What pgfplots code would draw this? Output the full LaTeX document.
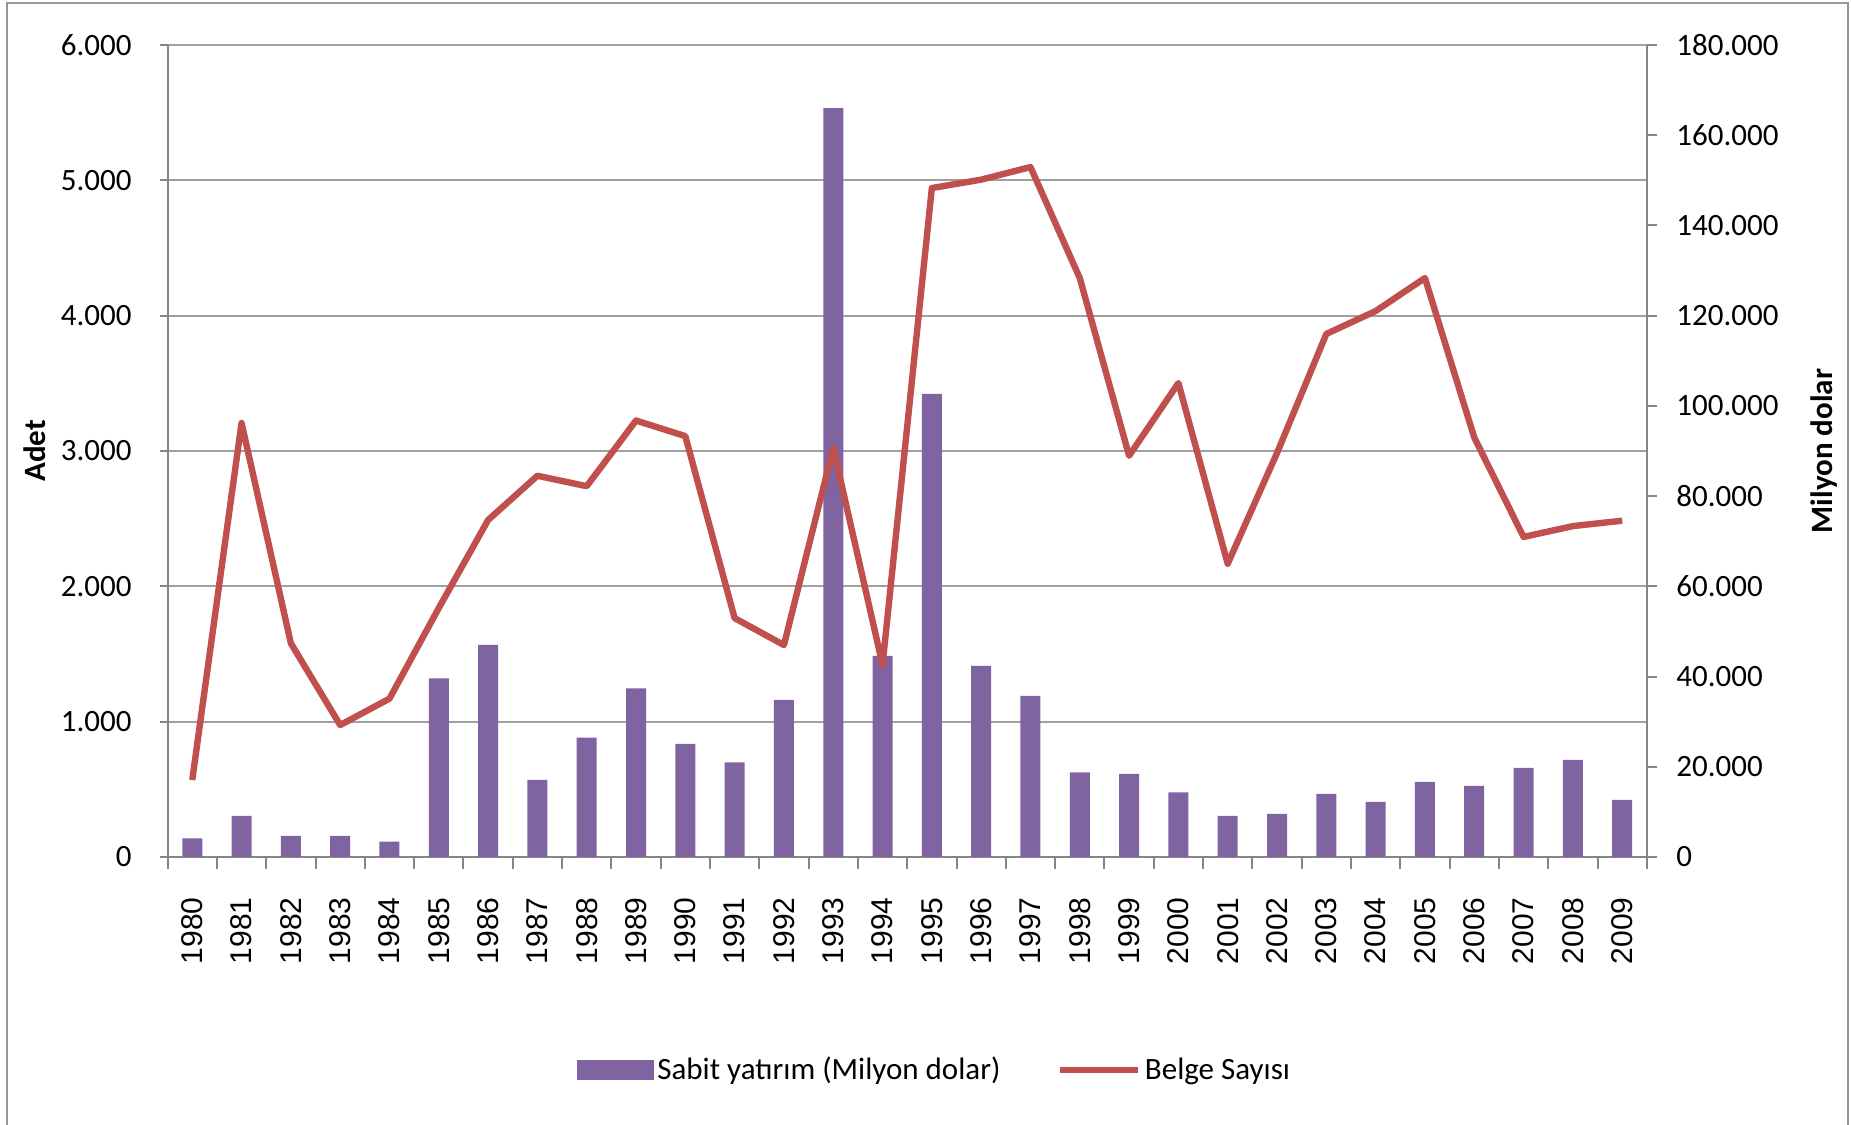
\documentclass[border=0pt]{standalone}
\usepackage{pgfplots}
\pgfplotsset{compat=1.18}
\usepackage{pgfplotstable}
\usepackage{fontspec}
\setmainfont{Carlito}
\newfontfamily\arialf{Liberation Sans}
\definecolor{barc}{RGB}{128,100,162}
\definecolor{linec}{RGB}{192,80,77}
\definecolor{gridc}{RGB}{160,160,160}
\definecolor{axc}{RGB}{134,134,134}
\definecolor{bordc}{RGB}{150,150,150}
\pgfplotstableread{
idx year bar line
0 1980 4145 569
1 1981 9089 3207
2 1982 4655 1579
3 1983 4655 975
4 1984 3392 1170
5 1985 39612 1840
6 1986 46994 2490
7 1987 17069 2817
8 1988 26445 2740
9 1989 37395 3225
10 1990 25049 3110
11 1991 20992 1765
12 1992 34802 1566
13 1993 166030 3022
14 1994 44557 1420
15 1995 102635 4943
16 1996 42339 5005
17 1997 35689 5098
18 1998 18775 4278
19 1999 18399 2965
20 2000 14342 3502
21 2001 9089 2167
22 2002 9532 2985
23 2003 13965 3865
24 2004 12192 4034
25 2005 16625 4278
26 2006 15739 3100
27 2007 19729 2365
28 2008 21502 2445
29 2009 12635 2485
}\data
\begin{document}
\begin{tikzpicture}
\useasboundingbox (0,0) rectangle (925.5pt,562pt);
\fill[white] (0,0) rectangle (925.5pt,562pt);
\draw[bordc, line width=1.25pt] (3.5pt,-3pt) -- (3.5pt,560.5pt) -- (924pt,560.5pt) -- (924pt,-3pt);
\pgfplotsset{base/.style={scale only axis, width=739.6pt, height=406pt,
  at={(83.8pt,133.5pt)}, anchor=south west, xmin=-0.5, xmax=29.5,
  /pgf/number format/assume math mode=true,
  axis line style={axc, line width=1pt}, tick style={axc, line width=1pt},
  tick align=outside,
  label style={font=\bfseries\fontsize{15.5}{18}\selectfont},
  ticklabel style={font=\fontsize{15.5}{18}\selectfont}}}
% Axis 1: left axis, grid, x axis
\begin{axis}[base, ymin=0, ymax=6000,
  axis x line*=bottom, axis y line*=left,
  ytick={0,1000,2000,3000,4000,5000,6000},
  yticklabels={0,1.000,2.000,3.000,4.000,5.000,6.000},
  yticklabel style={anchor=east, inner sep=0pt},
  yticklabel shift=13.8pt,
  major tick length=4pt,
  ymajorgrids=true, major grid style={gridc, line width=1pt},
  xtick={0,...,29}, major x tick style={draw=none},
  xticklabels={1980,1981,1982,1983,1984,1985,1986,1987,1988,1989,1990,1991,1992,1993,1994,1995,1996,1997,1998,1999,2000,2001,2002,2003,2004,2005,2006,2007,2008,2009},
  xticklabel style={rotate=90, anchor=east, inner sep=0pt, font=\arialf\fontsize{15}{18}\selectfont},
  xticklabel shift=16pt,
  minor xtick={-0.5,0.5,...,29.5}, minor tick length=6pt,
  ylabel={Adet}, ylabel style={at={(axis description cs:-0.0897,0.5)}, anchor=center},
]
\end{axis}
% Axis 2: bars on right axis
\begin{axis}[base, ymin=0, ymax=180000,
  axis x line=none, axis y line*=right,
  scaled y ticks=false,
  ytick={0,20000,40000,60000,80000,100000,120000,140000,160000,180000},
  yticklabels={0,20.000,40.000,60.000,80.000,100.000,120.000,140.000,160.000,180.000},
  yticklabel style={anchor=west, inner sep=0pt},
  yticklabel shift=9.6pt,
  major tick length=5pt,
  ylabel={Milyon dolar}, ylabel style={at={(axis description cs:1.12,0.5)}, anchor=center},
  ybar, bar width=10pt,
]
\addplot[fill=barc, draw=none] table[x=idx, y=bar] {\data};
\end{axis}
% Axis 3: line
\begin{axis}[base, ymin=0, ymax=6000, hide axis,
  legend style={at={(axis description cs:0.519,-0.262)}, anchor=center, draw=none, fill=none,
    font=\fontsize{15.5}{18}\selectfont, legend columns=2,
    /tikz/every even column/.append style={column sep=26pt}},
  legend cell align=left,
]
\addlegendimage{legend image code/.code={\fill[barc] (0pt,-4.75pt) rectangle (38pt,4.75pt);}}
\addlegendentry{Sabit yatırım (Milyon dolar)}
\addplot[linec, line width=3.2pt, line join=round, legend image code/.code={\draw[linec, line width=3.2pt] (0pt,0pt) -- (39pt,0pt);}] table[x=idx, y=line] {\data};
\addlegendentry{Belge Sayısı}
\end{axis}
\end{tikzpicture}
\end{document}
